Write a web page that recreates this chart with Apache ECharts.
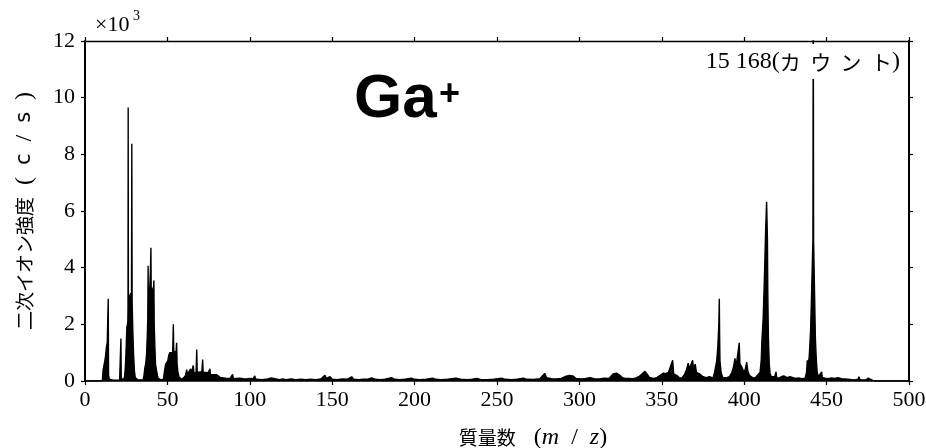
<!DOCTYPE html>
<html>
<head>
<meta charset="utf-8">
<script src="https://cdn.jsdelivr.net/npm/echarts@6/dist/echarts.min.js"></script>
<style>
  html, body { margin: 0; padding: 0; background: #fff; }
  #chart { width: 926px; height: 448px; }
</style>
</head>
<body>
<div id="chart"></div>
<script>
// Secondary-ion mass spectrum, Ga+ primary beam. Pairs are [m/z, counts per second].
const spectrumLow = [
  [0, 0], [10.5, 0], [11, 400], [11.5, 550], [12, 700], [12.5, 900], [13, 1200], [13.5, 1350], [13.9, 1400],
  [14.1, 2900], [14.3, 200], [14.8, 60], [16, 40], [17, 30], [18, 50], [19, 30], [20, 40], [21, 30],
  [21.6, 60], [21.8, 1500], [22, 80], [22.5, 40], [23.5, 60], [24, 150], [24.5, 500], [25, 1200],
  [25.4, 1900], [25.8, 2000], [26.0, 2100], [26.1, 2600], [26.2, 9650], [26.35, 2700], [26.7, 2900],
  [27.2, 3000], [27.7, 3100], [28.2, 3000], [28.4, 8370], [28.6, 2800], [29, 1800], [29.5, 900],
  [30, 350], [30.5, 120], [31, 50], [32, 40], [33, 30], [34, 40], [35.3, 40], [35.8, 200], [36.3, 450],
  [36.8, 600], [37.3, 900], [37.8, 1600], [38.1, 2200], [38.3, 4070], [38.5, 2400], [38.9, 3000],
  [39.3, 3300], [39.7, 3900], [40, 4700], [40.2, 2800], [40.6, 3300], [41, 2700], [41.4, 3100],
  [41.8, 3550], [42, 2000], [42.4, 1200], [42.8, 600], [43.3, 400], [43.8, 250], [44.3, 100], [45, 50],
  [46, 40], [47, 40], [47.6, 60], [48, 250], [48.5, 450], [49, 600], [49.6, 650], [50.2, 700],
  [50.8, 900], [51.4, 1000], [52, 950], [52.6, 1050], [53.2, 1000], [53.6, 2000], [53.9, 950],
  [54.5, 1050], [55.1, 900], [55.6, 1350], [55.9, 600], [56.4, 300], [57, 150], [57.6, 80], [58.5, 60]
];

const spectrumMid = [
  [59, 70], [60, 120], [61, 200], [61.7, 400], [62.1, 220], [62.7, 300], [63.3, 250], [64.1, 430],
  [64.5, 260], [65.2, 300], [65.7, 550], [66.1, 300], [66.8, 330], [67.4, 280], [67.8, 1110], [68.1, 300],
  [68.8, 350], [69.5, 320], [70.2, 300], [70.9, 330], [71.4, 760], [71.7, 300], [72.5, 280], [73.3, 300],
  [74.1, 260], [74.9, 300], [75.5, 250], [75.8, 430], [76.1, 230], [77, 250], [78, 220], [79, 200],
  [80, 220], [81, 160], [82, 130], [83, 90], [84, 110], [85, 70], [86, 90], [87, 60], [88, 90], [89, 110],
  [89.6, 230], [90, 80], [91, 60], [92, 90], [93, 70], [94, 100], [95, 60], [96, 80], [97, 50], [98, 70],
  [99, 60], [100, 90], [101, 60], [102, 80], [103, 180], [103.5, 70], [105, 60], [106, 80], [107, 50],
  [108, 70], [110, 60], [111, 80], [113, 110], [114, 50], [116, 70], [118, 50], [120, 70], [122, 50],
  [125, 70], [128, 50], [131, 60], [134, 45], [137, 60], [140, 50], [143, 70], [145.6, 200], [146.5, 90],
  [148.7, 150], [150, 60], [153, 50], [156, 70], [159, 60], [161.8, 150], [163, 60], [166, 50], [169, 60],
  [172, 70], [174, 110], [176, 60], [179, 50], [182, 60], [186, 120], [188, 60], [191, 50], [194, 60],
  [198, 100], [200, 60], [203, 50], [207, 60], [211, 100], [213, 60], [216, 50], [220, 60], [225, 100],
  [228, 60], [232, 50], [235, 60], [237.7, 90], [240, 55], [244, 50], [248, 60], [252.8, 100], [255, 60],
  [259, 50], [262, 60], [266, 100], [268, 60], [272, 55], [276, 80], [279, 270], [280, 120], [283, 80],
  [286, 70], [289, 90], [292, 170], [294, 200], [296, 180], [298, 90], [301, 70], [304, 90], [306.4, 120],
  [309, 80]
];

const spectrumHigh = [
  [312, 70], [315, 100], [318, 90], [320.4, 250], [321.5, 200], [322.5, 280], [323.5, 340], [324.6, 200],
  [326, 120], [327.5, 100], [328.7, 170], [330, 90], [332, 80], [334, 100], [336, 150], [338, 250],
  [339.8, 340], [341, 250], [342.5, 130], [344.9, 90], [347, 120], [349, 200], [351, 280], [352.5, 260],
  [354, 300], [355, 250], [356.6, 730], [357.2, 250], [359, 200], [360.5, 120], [362, 100], [363.5, 200],
  [365, 400], [366, 630], [366.8, 450], [367.5, 550], [368.7, 730], [369.3, 400], [370.3, 600], [371, 300],
  [373, 250], [375, 150], [377, 120], [379, 150], [381, 100], [382, 300], [383.3, 700], [384, 1200],
  [384.6, 2000], [384.9, 2900], [385.1, 1500], [385.3, 700], [386, 300], [387, 120], [388, 100],
  [389.4, 120], [391, 150], [392.5, 300], [393.5, 500], [394.4, 800], [394.9, 550], [395.4, 650],
  [396, 600], [396.6, 700], [397, 1350], [397.4, 600], [398.5, 500], [399.9, 300], [400.8, 450],
  [401.5, 670], [402.2, 350], [403.1, 200], [404, 150], [405.5, 100], [407, 130], [408, 120], [409.6, 300],
  [410.3, 700], [410.8, 1500], [411.5, 2200], [412.2, 3500], [413, 5300], [413.6, 6330], [414.1, 5000],
  [414.3, 3200], [414.7, 1500], [415.2, 600], [415.7, 250], [416.5, 150], [417.5, 100], [418.5, 150],
  [419.3, 320], [419.7, 120], [421, 100], [422.5, 150], [424, 180], [424.7, 200], [426, 120], [427.8, 150],
  [429, 100], [431, 90], [433, 110], [435, 80], [437, 100], [437.8, 300], [438.3, 730], [438.8, 500],
  [439.5, 900], [440.3, 1800], [440.9, 3100], [441.7, 5000], [441.9, 15168], [442.1, 5000], [442.7, 3100],
  [443.2, 1500], [443.8, 700], [444.3, 300], [445, 150], [446, 180], [447, 320], [447.4, 130], [449, 100],
  [451, 80], [453, 110], [455, 90], [457, 120], [459, 80], [461, 70], [463, 60], [465, 50], [467, 40],
  [469, 60], [469.6, 150], [470.2, 50], [472, 40], [474, 40], [475.3, 100], [475.8, 30], [478, 20],
  [480, 0], [500, 0]
];

// Strongest peak, annotated with its count
const topPeak = [441.9, 15168];
const xTicks = { min: 0, max: 500, interval: 50 };
const yTicks = { min: 0, max: 12000, interval: 2000 };

const spectrum = spectrumLow.concat(spectrumMid, spectrumHigh);

const serif = '"Liberation Serif", "DejaVu Serif", serif';
const cjk = '"Noto Sans CJK JP", sans-serif';
const sans = '"Liberation Sans", Arial, sans-serif';

function groupDigits(v) {
  return String(v).replace(/\B(?=(\d{3})+(?!\d))/g, ' ');
}

const chart = echarts.init(document.getElementById('chart'), null, { renderer: 'canvas' });

const baseX = {
  type: 'value', min: xTicks.min, max: xTicks.max, interval: xTicks.interval,
  splitLine: { show: false },
  axisTick: { show: true, inside: false, length: 4, lineStyle: { color: '#000', width: 1.2 } }
};
const baseY = {
  type: 'value', min: yTicks.min, max: yTicks.max, interval: yTicks.interval,
  splitLine: { show: false },
  axisTick: { show: true, inside: false, length: 4, lineStyle: { color: '#000', width: 1.2 } }
};

chart.setOption({
  animation: false,
  backgroundColor: '#fff',
  grid: { left: 85, right: 17, top: 41, bottom: 67, containLabel: false, outerBoundsMode: 'none' },
  xAxis: [
    Object.assign({}, baseX, {
      position: 'bottom',
      axisLine: { show: true, onZero: false, lineStyle: { color: '#000', width: 1.6 } },
      axisLabel: { show: true, margin: 8, color: '#000', fontFamily: serif, fontSize: 22 },
      name: '{c|質量数}{p|   (}{i|m}{p|  /  }{i|z}{p|)}',
      nameLocation: 'middle',
      nameGap: 45,
      nameTextStyle: {
        padding: [0, 0, 0, 72],
        rich: {
          c: { fontFamily: cjk, fontSize: 19, color: '#000' },
          p: { fontFamily: serif, fontSize: 24, color: '#000' },
          i: { fontFamily: serif, fontStyle: 'italic', fontSize: 24, color: '#000' }
        }
      }
    }),
    Object.assign({}, baseX, {
      position: 'top',
      axisLine: { show: true, onZero: false, lineStyle: { color: '#000', width: 1.4 } },
      axisLabel: { show: false }
    })
  ],
  yAxis: [
    Object.assign({}, baseY, {
      position: 'left',
      axisLine: { show: true, onZero: false, lineStyle: { color: '#000', width: 2 } },
      axisLabel: {
        show: true, margin: 10, color: '#000', fontFamily: serif, fontSize: 22,
        formatter: v => String(v / 1000)
      },
      name: '{k|二次イオン強度}{p|  (  }{l|c}{p|  /  }{l|s}{p|  )}',
      nameLocation: 'middle',
      nameRotate: 90,
      nameGap: 48,
      nameTextStyle: {
        rich: {
          k: { fontFamily: cjk, fontSize: 19, color: '#000' },
          p: { fontFamily: serif, fontSize: 24, color: '#000' },
          l: { fontFamily: '"DejaVu Sans", sans-serif', fontSize: 21, color: '#000' }
        }
      }
    }),
    Object.assign({}, baseY, {
      position: 'right',
      axisLine: { show: true, onZero: false, lineStyle: { color: '#000', width: 2 } },
      axisLabel: { show: false }
    })
  ],
  graphic: [
    {
      type: 'text', left: 95, top: 14, z: 10,
      style: { text: '×10', fontFamily: serif, fontSize: 22, fill: '#000' }
    },
    {
      type: 'text', left: 133, top: 9, z: 10,
      style: { text: '3', fontFamily: serif, fontSize: 14, fill: '#000' }
    },
    {
      type: 'text', left: 354, top: 69, z: 10,
      style: { text: 'Ga', fontFamily: sans, fontWeight: 'bold', fontSize: 62, fill: '#000' }
    },
    {
      type: 'text', left: 439, top: 77, z: 10,
      style: { text: '+', fontFamily: sans, fontWeight: 'bold', fontSize: 36, fill: '#000' }
    },
    {
      type: 'text', right: 24, top: 44, z: 20,
      style: {
        text: '{n|' + groupDigits(topPeak[1]) + '}{p|(}{k|カ  ウ  ン  ト}{p|)}',
        backgroundColor: '#fff',
        padding: [6, 2, 5, 2],
        rich: {
          n: { fontFamily: serif, fontSize: 24, fill: '#000' },
          p: { fontFamily: serif, fontSize: 24, fill: '#000' },
          k: { fontFamily: cjk, fontSize: 21, fill: '#000' }
        }
      }
    }
  ],
  series: [
    {
      type: 'line',
      xAxisIndex: 0,
      yAxisIndex: 0,
      data: spectrum,
      showSymbol: false,
      symbol: 'none',
      smooth: false,
      sampling: null,
      clip: true,
      lineStyle: { color: '#000', width: 1.4 },
      areaStyle: { color: '#000', opacity: 1 },
      z: 2
    }
  ]
});
</script>
</body>
</html>
